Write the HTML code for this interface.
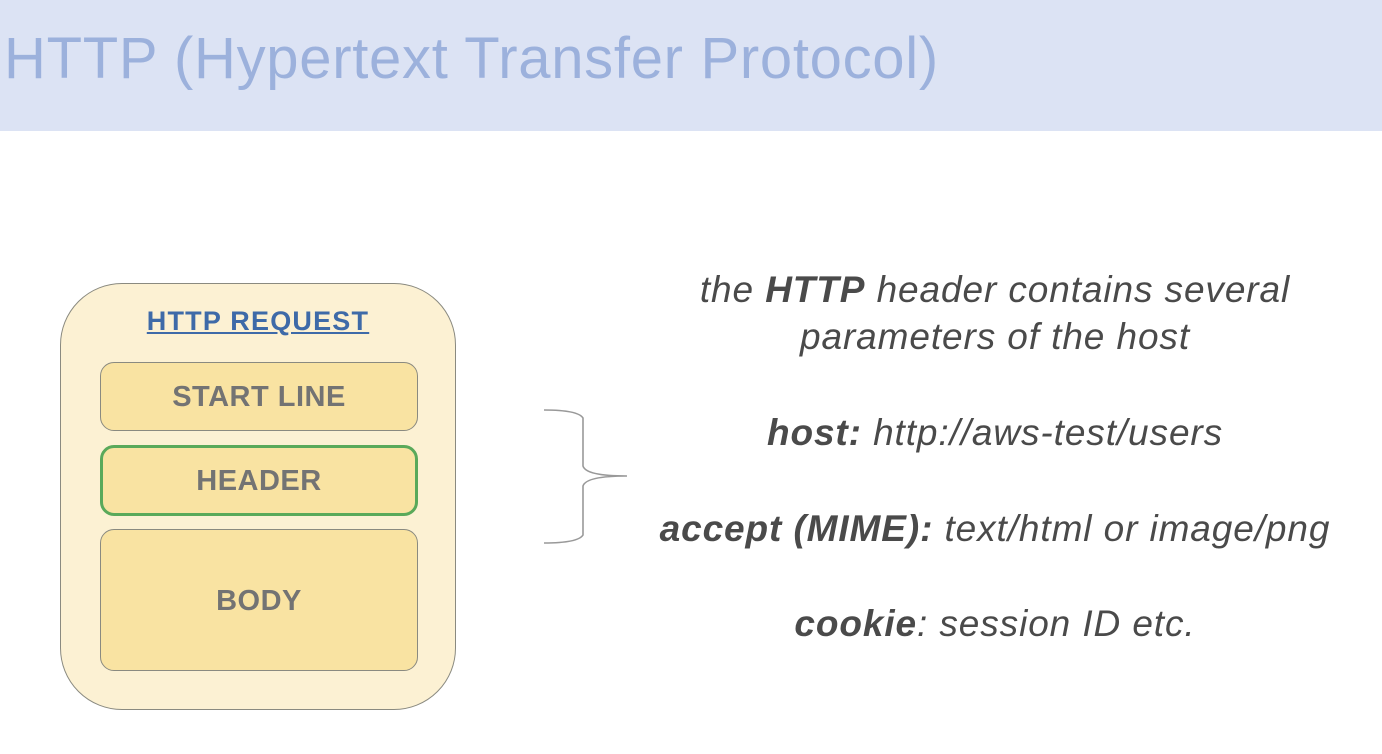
<!DOCTYPE html>
<html><head><style>
body{margin:0;width:1382px;height:754px;background:#fff;position:relative;overflow:hidden;font-family:"Liberation Sans",sans-serif}
.band{position:absolute;left:0;top:0;width:1382px;height:131px;background:#dce3f4}
.title{position:absolute;left:4px;top:25px;font-size:58px;color:#9cb1dc;white-space:nowrap;letter-spacing:0.7px}
.outer{position:absolute;left:60px;top:283px;width:396px;height:427px;border:1.5px solid #8a8a80;border-radius:62px;background:#fcf1d3;box-sizing:border-box}
.req{position:absolute;left:60px;top:306px;width:396px;text-align:center;font-weight:bold;font-size:27px;letter-spacing:1.2px;color:#3e6aa8;text-decoration:underline}
.box{position:absolute;left:100px;width:318px;box-sizing:border-box;border:1.5px solid #8a8a80;border-radius:14px;background:#f9e3a2;display:flex;align-items:center;justify-content:center;font-weight:bold;font-size:29px;letter-spacing:0.5px;color:#737373;padding-top:2px}
.txt{position:absolute;left:600px;width:790px;text-align:center;font-style:italic;font-size:37px;letter-spacing:0.9px;color:#4a4a4a;white-space:nowrap}
</style></head><body>
<div class="band"></div>
<div class="title">HTTP (Hypertext Transfer Protocol)</div>
<div class="outer"></div>
<div class="req">HTTP REQUEST</div>
<div class="box" style="top:362px;height:69px">START LINE</div>
<div class="box" style="top:445px;height:71px;border:3.5px solid #5aa95a">HEADER</div>
<div class="box" style="top:529px;height:142px">BODY</div>
<svg style="position:absolute;left:0;top:0" width="1382" height="754">
<path d="M544 410 Q578 410 583 418 L583 466 Q586 476 627 476 Q586 476 583 486 L583 535 Q578 543 544 543" fill="none" stroke="#999" stroke-width="1.6"/>
</svg>
<div class="txt" style="top:269px">the <b>HTTP</b> header contains several</div>
<div class="txt" style="top:316px">parameters of the host</div>
<div class="txt" style="top:412px"><b>host:</b> http://aws-test/users</div>
<div class="txt" style="top:508px"><b>accept (MIME):</b> text/html or image/png</div>
<div class="txt" style="top:603px"><b>cookie</b>: session ID etc.</div>
</body></html>
